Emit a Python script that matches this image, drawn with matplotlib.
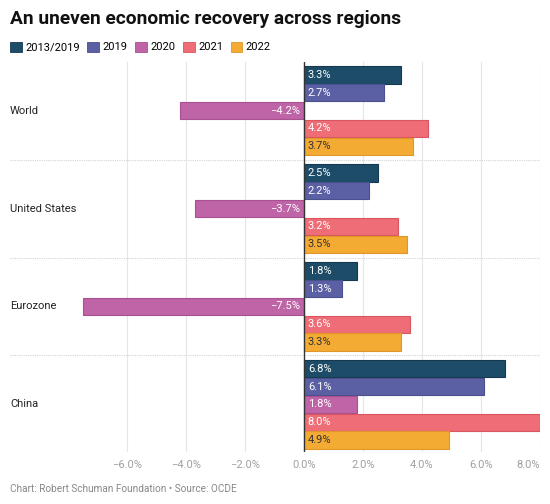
import matplotlib.pyplot as plt
from matplotlib.patches import Patch

plt.rcParams["font.family"] = ["Roboto", "DejaVu Sans"]

regions = ["World", "United States", "Eurozone", "China"]
series = ["2013/2019", "2019", "2020", "2021", "2022"]
values = {
    "2013/2019": [3.3, 2.5, 1.8, 6.8],
    "2019": [2.7, 2.2, 1.3, 6.1],
    "2020": [-4.2, -3.7, -7.5, 1.8],
    "2021": [4.2, 3.2, 3.6, 8.0],
    "2022": [3.7, 3.5, 3.3, 4.9],
}
ticks = [-6, -4, -2, 0, 2, 4, 6, 8]

colors = ["#1c4c68", "#5b60a5", "#c064a8", "#ee6d76", "#f4ab33"]
edges = ["#153a50", "#4a4f8e", "#a9518f", "#d9555f", "#e0962a"]
text_colors = ["white", "white", "white", "white", "#333333"]

W, H = 550, 504
fig = plt.figure(figsize=(W / 100, H / 100), dpi=100)

# axes placed in pixel terms: left 10, right 540, top 62, bottom 452
ax = fig.add_axes([10 / W, 1 - 452 / H, 530 / W, 390 / H])

px_per_unit = 29.5
x_left = (10 - 304) / px_per_unit
ax.set_xlim(x_left, 8.0)

group_pitch = 5.5
n_groups = len(regions)
top_pad = 4 / 17.8
bottom_pad = 3 / 17.8
ax.set_ylim(-(n_groups - 1) * group_pitch - 5 - bottom_pad, top_pad)

for gi, region in enumerate(regions):
    g_top = -gi * group_pitch
    for si, name in enumerate(series):
        v = values[name][gi]
        yc = g_top - si - 0.5
        ax.barh(yc, v, height=0.97, color=colors[si], edgecolor=edges[si],
                linewidth=0.8, zorder=3)
        label = f"{v:.1f}%".replace("-", "\u2212")
        if v >= 0:
            ax.text(0.13, yc, label, ha="left", va="center", fontsize=8,
                    color=text_colors[si], zorder=4)
        else:
            ax.text(-0.13, yc, label, ha="right", va="center", fontsize=8,
                    color=text_colors[si], zorder=4)
    ax.text(x_left, g_top - 2.5, region, ha="left", va="center",
            fontsize=8, color="#222222")
    if gi > 0:
        ax.axhline(g_top + (group_pitch - 5) / 2, color="#d4d4d4", lw=0.8,
                   ls=(0, (1, 1)), zorder=1)

for t in ticks:
    if t != 0:
        ax.axvline(t, color="#e6e6e6", lw=0.8, zorder=0)
ax.axvline(0, color="#333333", lw=1.0, zorder=5)

ax.set_xticks(ticks)
tick_labels = ax.set_xticklabels(
    [f"{t:.1f}%".replace("-", "\u2212") for t in ticks],
    fontsize=8, color="#a0a0a0")
tick_labels[-1].set_horizontalalignment("right")
ax.tick_params(axis="x", length=0, pad=6)
ax.set_yticks([])
for s in ax.spines.values():
    s.set_visible(False)

fig.text(10 / W, 1 - 19 / H, "An uneven economic recovery across regions",
         fontsize=13.75, fontweight="bold", color="#111111", va="center")

handles = [Patch(facecolor=c, edgecolor=e, linewidth=0.6, label=s)
           for c, e, s in zip(colors, edges, series)]
fig.legend(handles=handles, loc="center left",
           bbox_to_anchor=(0 / W, 1 - 47 / H), ncol=5, frameon=False,
           fontsize=8, handlelength=1.05, handleheight=1.05,
           handletextpad=0.3, columnspacing=0.7)

fig.text(10 / W, 1 - 489 / H, "Chart: Robert Schuman Foundation \u2022 Source: OCDE",
         fontsize=7.2, color="#888888", va="center")

fig.savefig("out.png", dpi=100)
